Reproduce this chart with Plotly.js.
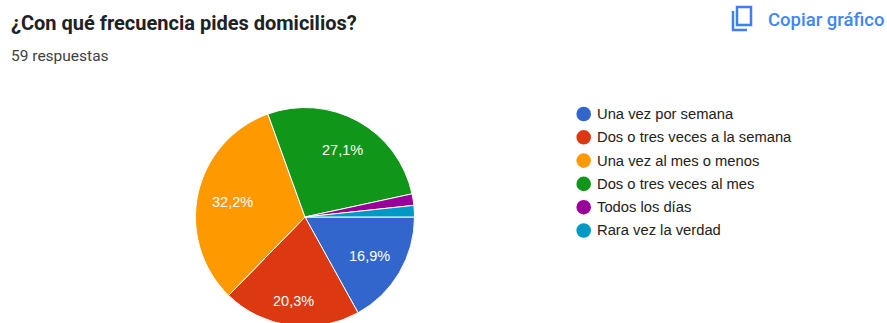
<!DOCTYPE html>
<html lang="es">
<head>
<meta charset="utf-8">
<title>¿Con qué frecuencia pides domicilios?</title>
<script src="https://cdn.plot.ly/plotly-3.0.1.min.js"></script>
<style>
  html, body { margin: 0; padding: 0; background: #fff; width: 887px; height: 323px; overflow: hidden; }
  #chart { width: 887px; height: 360px; }
</style>
</head>
<body>
<div id="chart"></div>
<script>
// Survey answers (count of responses per option)
const categories = [
  'Una vez por semana',
  'Dos o tres veces a la semana',
  'Una vez al mes o menos',
  'Dos o tres veces al mes',
  'Todos los días',
  'Rara vez la verdad'
];
const responses = [10, 12, 19, 16, 1, 1];
const sliceColors = ['#3366cc', '#dc3912', '#ff9900', '#109618', '#990099', '#0099c6'];
const questionTitle = '¿Con qué frecuencia pides domicilios?';
const responseNote = '59 respuestas';
const copyLabel = 'Copiar gráfico';

// The canvas is taller than the window: the pie runs off the bottom edge.
const W = 887, H = 360;
const px = x => x / W;
const py = y => 1 - y / H;

const pieCx = 305, pieCy = 217, pieR = 109.5, startAngle = 90;

const pie = {
  type: 'pie',
  labels: categories,
  values: responses,
  textinfo: 'none',
  sort: false,
  direction: 'clockwise',
  rotation: startAngle,
  marker: { colors: sliceColors, line: { color: '#ffffff', width: 1 } },
  domain: {
    x: [px(pieCx - pieR), px(pieCx + pieR)],
    y: [py(pieCy + pieR), py(pieCy - pieR)]
  },
  hoverinfo: 'label+percent',
  showlegend: false
};

function textNote(text, x, y, font, anchor) {
  return {
    text, x: px(x), y: py(y), xref: 'paper', yref: 'paper',
    xanchor: anchor || 'left', yanchor: 'middle', showarrow: false, font
  };
}

const annotations = [
  textNote(questionTitle, 9, 22.5, { family: 'Roboto, sans-serif', size: 20, weight: 700, color: '#202124' }),
  textNote(responseNote, 9, 56, { family: 'Roboto, sans-serif', size: 15.5, color: '#3c4043' }),
  textNote(copyLabel, 765.5, 19.5, { family: 'Roboto, sans-serif', size: 18.5, weight: 500, color: '#4285f4' })
];

// Percent labels sit on each slice's bisector, pushed out until the label box
// touches an inner circle. Slices too small to hold a label get none.
const total = responses.reduce((a, b) => a + b, 0);
const labelFont = { family: 'Arial, "Liberation Sans", sans-serif', size: 14.5, color: '#ffffff' };
const labelHalfW = 19, labelHalfH = 7, labelCircle = 94.5, labelDrop = 1;
let running = 0;
responses.forEach(v => {
  const mid = (startAngle + (running + v / 2) / total * 360) * Math.PI / 180;
  running += v;
  const share = v / total * 100;
  if (share < 5) return;
  const s = Math.sin(mid), c = -Math.cos(mid);
  const as = Math.abs(s), ac = Math.abs(c);
  const b = labelHalfW * as + labelHalfH * ac;
  const q = labelHalfW * labelHalfW + labelHalfH * labelHalfH - labelCircle * labelCircle;
  const r = -b + Math.sqrt(b * b - q);
  annotations.push(textNote(share.toFixed(1).replace('.', ',') + '%',
    pieCx + r * s, pieCy + r * c + labelDrop, labelFont, 'center'));
});

const shapes = [];

// Legend: round swatch plus label, one row per category
const legendX = 583.7, legendTop = 114, legendStep = 23.3, dotR = 7.3;
categories.forEach((name, i) => {
  const y = legendTop + i * legendStep;
  shapes.push({
    type: 'circle', xref: 'paper', yref: 'paper',
    x0: px(legendX - dotR), x1: px(legendX + dotR),
    y0: py(y + dotR), y1: py(y - dotR),
    fillcolor: sliceColors[i], line: { width: 0 }
  });
  annotations.push(textNote(name, 595, y, { family: 'Arial, "Liberation Sans", sans-serif', size: 14.75, color: '#222222' }));
});

// Copy icon: front sheet and the corner of the sheet behind it
const iconBlue = '#3f7fee';
shapes.push({
  type: 'rect', xref: 'paper', yref: 'paper',
  x0: px(737), x1: px(751), y0: py(25), y1: py(7),
  line: { color: iconBlue, width: 2.5 }, fillcolor: 'rgba(0,0,0,0)'
});
shapes.push({
  type: 'path', xref: 'paper', yref: 'paper',
  path: `M ${px(733)} ${py(11)} L ${px(733)} ${py(30)} L ${px(747)} ${py(30)}`,
  line: { color: iconBlue, width: 2.5 }
});

const layout = {
  width: W,
  height: H,
  margin: { l: 0, r: 0, t: 0, b: 0 },
  paper_bgcolor: '#ffffff',
  showlegend: false,
  annotations,
  shapes
};

Plotly.newPlot('chart', [pie], layout, { displayModeBar: false });
</script>
</body>
</html>
